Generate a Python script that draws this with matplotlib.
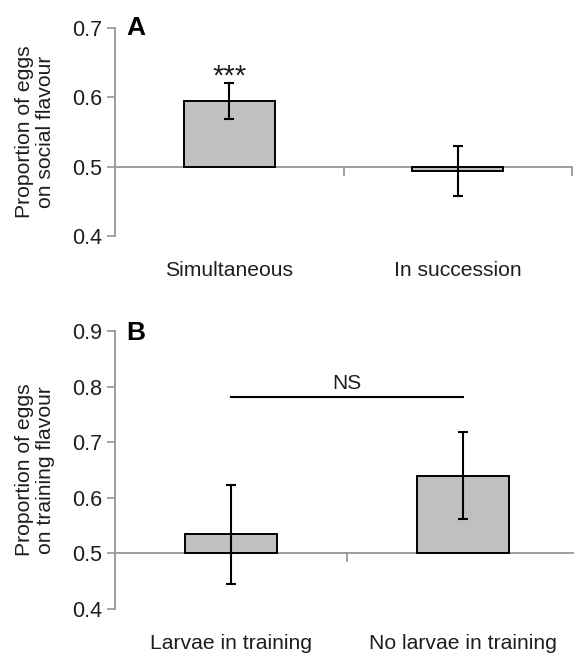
import numpy as np
import matplotlib
matplotlib.use("Agg")
import matplotlib.pyplot as plt
from matplotlib.transforms import blended_transform_factory

plt.rcParams['font.family'] = ['Liberation Sans', 'DejaVu Sans']

# panel A
cats_a = ["Simultaneous", "In succession"]
vals_a = [0.594, 0.494]
err_lo_a = [0.569, 0.458]
err_hi_a = [0.620, 0.530]
# panel B
cats_b = ["Larvae in training", "No larvae in training"]
vals_b = [0.535, 0.640]
err_lo_b = [0.445, 0.561]
err_hi_b = [0.623, 0.719]
ns_level = 0.781

GREY = "#969696"
BAR = "#c0c0c0"
TXT = "#1e1e1e"
W, H = 574, 654

fig = plt.figure(figsize=(W / 100, H / 100), dpi=100)


def panel(px, cats, vals, lo, hi, ylim, yticks, ylabel, letter, letter_base):
    left, top, width, bottom = px
    ax = fig.add_axes([left / W, 1 - bottom / H, width / W, (bottom - top) / H])
    x = np.arange(len(cats)) + 0.5
    base = 0.5
    ax.bar(x, np.array(vals) - base, bottom=base, width=0.4, color=BAR,
           edgecolor="black", linewidth=1.4, zorder=3)
    yerr = [np.array(vals) - np.array(lo), np.array(hi) - np.array(vals)]
    ax.errorbar(x, vals, yerr=yerr, fmt="none", ecolor="black", elinewidth=1.5,
                capsize=3.8, capthick=1.5, zorder=4)
    ax.axhline(base, color=GREY, lw=1.3, zorder=2)
    # category boundary ticks hanging from the 0.5 line
    dy = (ylim[1] - ylim[0]) * 8 / (bottom - top)
    for xb in range(1, len(cats) + 1):
        ax.plot([xb, xb], [base, base - dy], color=GREY, lw=1.3, clip_on=False, zorder=2)
    ax.set_xlim(0, len(cats))
    ax.set_ylim(*ylim)
    ax.set_yticks(yticks)
    ax.set_yticklabels([f"{t:.1f}" for t in yticks], fontsize=15.5, color=TXT)
    ax.set_xticks(x)
    ax.set_xticklabels(cats, fontsize=15.2, color=TXT)
    ax.tick_params(axis="x", length=0, pad=18)
    ax.tick_params(axis="y", direction="out", length=6, width=1.2, color=GREY, pad=3.5)
    for s in ["top", "right", "bottom"]:
        ax.spines[s].set_visible(False)
    ax.spines["left"].set_color(GREY)
    ax.spines["left"].set_linewidth(1.3)
    ax.set_ylabel(ylabel, fontsize=15.2, color=TXT, linespacing=1.1)
    ax.yaxis.set_label_coords(55 / W, 0.5,
                              transform=blended_transform_factory(fig.transFigure, ax.transAxes))
    fig.text(126.5 / W, 1 - letter_base / H, letter, fontsize=19, fontweight="bold",
             ha="left", va="baseline")
    return ax, x


axA, xa = panel((115, 28, 457, 236), cats_a, vals_a, err_lo_a, err_hi_a,
                (0.4, 0.7), [0.4, 0.5, 0.6, 0.7], "Proportion of eggs\non social flavour", "A", 35)
axA.text(xa[0], 0.619, "***", ha="center", va="baseline", fontsize=21, color=TXT)

axB, xb = panel((115, 331, 464, 609), cats_b, vals_b, err_lo_b, err_hi_b,
                (0.4, 0.9), [0.4, 0.5, 0.6, 0.7, 0.8, 0.9], "Proportion of eggs\non training flavour", "B", 340)
axB.plot([xb[0], xb[1]], [ns_level, ns_level], color="black", lw=1.5)
axB.text(xb.mean(), 0.795, "NS", ha="center", va="baseline", fontsize=15, color=TXT)

fig.savefig("out.png", dpi=100)
